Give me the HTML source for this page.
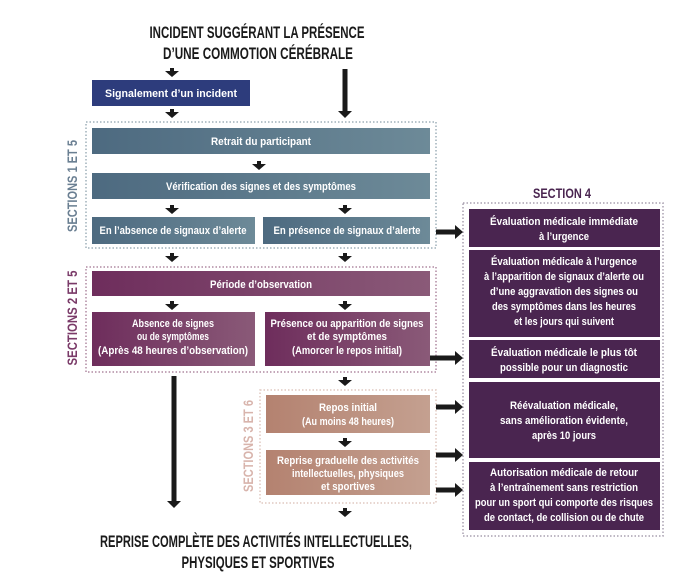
<!DOCTYPE html>
<html><head><meta charset="utf-8"><style>
html,body{margin:0;padding:0;background:#fff;}
svg{display:block}
.t{font-family:"Liberation Sans",sans-serif;font-weight:bold;font-size:11px;fill:#fff;text-anchor:middle}
.h{font-family:"Liberation Sans",sans-serif;font-weight:bold;font-size:17px;fill:#1a1a1a;text-anchor:middle}
.v{font-family:"Liberation Sans",sans-serif;font-weight:bold;font-size:14px;text-anchor:middle}
.dot{fill:none;stroke:#aaa;stroke-width:1.5;stroke-dasharray:1.5 2}
</style></head><body>
<svg width="679" height="576" viewBox="0 0 679 576" xmlns="http://www.w3.org/2000/svg">
<defs>
<linearGradient id="gb" x1="0" x2="1"><stop offset="0" stop-color="#4d6a80"/><stop offset="1" stop-color="#6d8a98"/></linearGradient>
<linearGradient id="gp" x1="0" x2="1"><stop offset="0" stop-color="#6e2d5c"/><stop offset="1" stop-color="#8a5a78"/></linearGradient>
<linearGradient id="gt" x1="0" x2="1"><stop offset="0" stop-color="#b48270"/><stop offset="1" stop-color="#c4a090"/></linearGradient>
</defs>
<text class="h" x="257" y="38" textLength="215" lengthAdjust="spacingAndGlyphs">INCIDENT SUGGÉRANT LA PRÉSENCE</text>
<text class="h" x="258" y="59" textLength="190" lengthAdjust="spacingAndGlyphs">D’UNE COMMOTION CÉRÉBRALE</text>
<text class="h" x="256" y="547" textLength="312" lengthAdjust="spacingAndGlyphs">REPRISE COMPLÈTE DES ACTIVITÉS INTELLECTUELLES,</text>
<text class="h" x="258" y="568" textLength="153" lengthAdjust="spacingAndGlyphs">PHYSIQUES ET SPORTIVES</text>

<rect class="dot" x="86" y="122" width="350" height="126" style="stroke:#9fb0ba"/>
<rect class="dot" x="86" y="267" width="350" height="105" style="stroke:#b08aa2"/>
<rect class="dot" x="260" y="390" width="176" height="113" style="stroke:#e0c8c0"/>
<rect class="dot" x="463" y="203" width="200" height="333" style="stroke:#a9a0b0"/>

<text class="v" transform="translate(77,186) rotate(-90)" fill="#6a7f92" textLength="92" lengthAdjust="spacingAndGlyphs">SECTIONS 1 ET 5</text>
<text class="v" transform="translate(77,318) rotate(-90)" fill="#7a3a68" textLength="95" lengthAdjust="spacingAndGlyphs">SECTIONS 2 ET 5</text>
<text class="v" transform="translate(253,446) rotate(-90)" fill="#d8b4ac" textLength="92" lengthAdjust="spacingAndGlyphs">SECTIONS 3 ET 6</text>
<text class="v" x="562" y="198" fill="#4a2550" textLength="58" lengthAdjust="spacingAndGlyphs">SECTION 4</text>

<rect x="92" y="80" width="158" height="26" fill="#2d3c7c"/>
<rect x="92" y="128" width="338" height="26" fill="url(#gb)"/>
<rect x="92" y="173" width="338" height="26" fill="url(#gb)"/>
<rect x="92" y="217" width="163" height="27" fill="url(#gb)"/>
<rect x="263" y="217" width="167" height="27" fill="url(#gb)"/>
<rect x="92" y="271" width="338" height="25" fill="url(#gp)"/>
<rect x="92" y="312" width="163" height="54" fill="url(#gp)"/>
<rect x="265" y="312" width="165" height="54" fill="url(#gp)"/>
<rect x="266" y="395" width="164" height="38" fill="url(#gt)"/>
<rect x="266" y="450" width="164" height="45" fill="url(#gt)"/>
<g fill="#4a2550">
<rect x="469" y="209" width="191" height="38"/>
<rect x="469" y="250" width="191" height="87"/>
<rect x="469" y="340" width="191" height="38"/>
<rect x="469" y="382" width="191" height="76"/>
<rect x="469" y="462" width="191" height="68"/>
</g>

<g class="t">
<text x="171" y="97" textLength="132" lengthAdjust="spacingAndGlyphs">Signalement d’un incident</text>
<text x="261" y="145" textLength="100" lengthAdjust="spacingAndGlyphs">Retrait du participant</text>
<text x="261" y="190" textLength="190" lengthAdjust="spacingAndGlyphs">Vérification des signes et des symptômes</text>
<text x="173" y="234" textLength="147" lengthAdjust="spacingAndGlyphs">En l’absence de signaux d’alerte</text>
<text x="347" y="234" textLength="147" lengthAdjust="spacingAndGlyphs">En présence de signaux d’alerte</text>
<text x="261" y="288" textLength="102" lengthAdjust="spacingAndGlyphs">Période d’observation</text>
<text x="173" y="327" textLength="82" lengthAdjust="spacingAndGlyphs">Absence de signes</text>
<text x="173" y="340" textLength="72" lengthAdjust="spacingAndGlyphs">ou de symptômes</text>
<text x="173" y="354" textLength="150" lengthAdjust="spacingAndGlyphs">(Après 48 heures d’observation)</text>
<text x="347" y="327" textLength="153" lengthAdjust="spacingAndGlyphs">Présence ou apparition de signes</text>
<text x="347" y="340" textLength="80" lengthAdjust="spacingAndGlyphs">et de symptômes</text>
<text x="347" y="354" textLength="110" lengthAdjust="spacingAndGlyphs">(Amorcer le repos initial)</text>
<text x="348" y="411" textLength="58" lengthAdjust="spacingAndGlyphs">Repos initial</text>
<text x="348" y="425" textLength="92" lengthAdjust="spacingAndGlyphs">(Au moins 48 heures)</text>
<text x="348" y="464" textLength="142" lengthAdjust="spacingAndGlyphs">Reprise graduelle des activités</text>
<text x="348" y="477" textLength="112" lengthAdjust="spacingAndGlyphs">intellectuelles, physiques</text>
<text x="348" y="490" textLength="54" lengthAdjust="spacingAndGlyphs">et sportives</text>

<text x="564" y="225" textLength="148" lengthAdjust="spacingAndGlyphs">Évaluation médicale immédiate</text>
<text x="564" y="240" textLength="50" lengthAdjust="spacingAndGlyphs">à l’urgence</text>
<text x="564" y="265" textLength="146" lengthAdjust="spacingAndGlyphs">Évaluation médicale à l’urgence</text>
<text x="564" y="280" textLength="160" lengthAdjust="spacingAndGlyphs">à l’apparition de signaux d’alerte ou</text>
<text x="564" y="295" textLength="148" lengthAdjust="spacingAndGlyphs">d’une aggravation des signes ou</text>
<text x="564" y="310" textLength="144" lengthAdjust="spacingAndGlyphs">des symptômes dans les heures</text>
<text x="564" y="325" textLength="100" lengthAdjust="spacingAndGlyphs">et les jours qui suivent</text>
<text x="564" y="356" textLength="146" lengthAdjust="spacingAndGlyphs">Évaluation médicale le plus tôt</text>
<text x="564" y="371" textLength="128" lengthAdjust="spacingAndGlyphs">possible pour un diagnostic</text>
<text x="564" y="409" textLength="108" lengthAdjust="spacingAndGlyphs">Réévaluation médicale,</text>
<text x="564" y="424" textLength="128" lengthAdjust="spacingAndGlyphs">sans amélioration évidente,</text>
<text x="564" y="439" textLength="64" lengthAdjust="spacingAndGlyphs">après 10 jours</text>
<text x="564" y="476" textLength="148" lengthAdjust="spacingAndGlyphs">Autorisation médicale de retour</text>
<text x="564" y="491" textLength="148" lengthAdjust="spacingAndGlyphs">à l’entraînement sans restriction</text>
<text x="564" y="506" textLength="178" lengthAdjust="spacingAndGlyphs">pour un sport qui comporte des risques</text>
<text x="564" y="521" textLength="160" lengthAdjust="spacingAndGlyphs">de contact, de collision ou de chute</text>
</g>

<g fill="#1a1a1a">
<polygon points="170,68 174,68 174,71 179,71 172,77 165,71 170,71"/>
<polygon points="170,109 174,109 174,112 179,112 172,118 165,112 170,112"/>
<polygon points="257,161 261,161 261,164 266,164 259,170 252,164 257,164"/>
<polygon points="170,205 174,205 174,208 179,208 172,214 165,208 170,208"/>
<polygon points="343,205 347,205 347,208 352,208 345,214 338,208 343,208"/>
<polygon points="170,253 174,253 174,256 179,256 172,262 165,256 170,256"/>
<polygon points="343,253 347,253 347,256 352,256 345,262 338,256 343,256"/>
<polygon points="170,301 174,301 174,304 179,304 172,310 165,304 170,304"/>
<polygon points="343,301 347,301 347,304 352,304 345,310 338,304 343,304"/>
<polygon points="343,377 347,377 347,380 352,380 345,386 338,380 343,380"/>
<polygon points="343,438 347,438 347,441 352,441 345,447 338,441 343,441"/>
<polygon points="343,508 347,508 347,511 352,511 345,517 338,511 343,511"/>
<rect x="342.5" y="69" width="5" height="42"/><polygon points="338,111 352,111 345,118"/>
<rect x="171.5" y="376" width="5" height="125"/><polygon points="167,501 181,501 174,508"/>
<rect x="436" y="229.5" width="19" height="5"/><polygon points="455,225 455,239 463,232"/>
<rect x="430" y="355.5" width="25" height="5"/><polygon points="455,351 455,365 463,358"/>
<rect x="436" y="404.5" width="19" height="5"/><polygon points="455,400 455,414 463,407"/>
<rect x="436" y="452.5" width="19" height="5"/><polygon points="455,448 455,462 463,455"/>
<rect x="436" y="487.5" width="19" height="5"/><polygon points="455,483 455,497 463,490"/>
</g>
</svg>
</body></html>
